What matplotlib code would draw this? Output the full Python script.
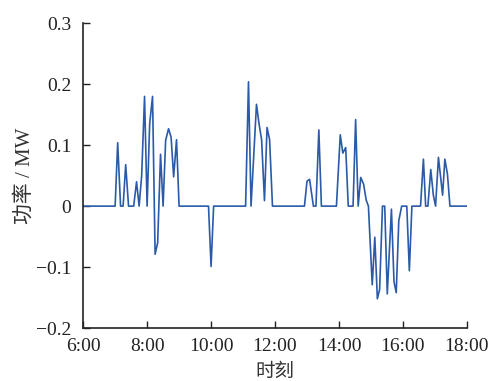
import matplotlib
matplotlib.use('Agg')
import matplotlib.pyplot as plt

# vertices of the power curve (hour of day, MW)
hours = [6.00, 7.00, 7.08, 7.17, 7.25, 7.33, 7.42, 7.58, 7.67, 7.75, 7.83, 7.92,
         8.00, 8.08, 8.17, 8.25, 8.33, 8.42, 8.50, 8.58, 8.67, 8.75, 8.83, 8.92,
         9.00, 9.92, 10.00, 10.08, 11.08, 11.17, 11.25, 11.42, 11.50, 11.58, 11.67,
         11.75, 11.83, 11.92, 12.92, 13.00, 13.08, 13.20, 13.28, 13.37, 13.45,
         13.92, 14.04, 14.12, 14.21, 14.29, 14.44, 14.52, 14.60, 14.68, 14.77,
         14.85, 14.92, 15.04, 15.12, 15.20, 15.27, 15.36, 15.43, 15.51, 15.64,
         15.72, 15.79, 15.87, 15.96, 16.12, 16.20, 16.28, 16.55, 16.64, 16.71,
         16.78, 16.87, 16.95, 17.02, 17.11, 17.24, 17.31, 17.39, 17.47, 18.00]
power = [0, 0, 0.104, 0, 0, 0.068, 0, 0, 0.040, 0, 0.050, 0.180,
         0, 0.135, 0.180, -0.079, -0.060, 0.085, 0, 0.108, 0.127, 0.113, 0.048, 0.109,
         0, 0, -0.099, 0, 0, 0.204, 0, 0.167, 0.135, 0.109, 0.009,
         0.129, 0.109, 0, 0, 0.041, 0.044, 0, 0, 0.125, 0,
         0, 0.117, 0.087, 0.096, 0, 0, 0.142, 0, 0.047, 0.036,
         0.010, 0, -0.129, -0.051, -0.152, -0.137, 0, 0, -0.144, -0.005,
         -0.124, -0.142, -0.024, 0, 0, -0.106, 0, 0, 0.077, 0,
         0, 0.060, 0.018, 0, 0.080, 0.018, 0.077, 0.053, 0, 0]

xticks = [6, 8, 10, 12, 14, 16, 18]
xticklabels = ['6:00', '8:00', '10:00', '12:00', '14:00', '16:00', '18:00']
yticks = [-0.2, -0.1, 0, 0.1, 0.2, 0.3]
yticklabels = ['\u22120.2', '\u22120.1', '0', '0.1', '0.2', '0.3']

plt.rcParams['font.family'] = ['Liberation Serif', 'Noto Sans CJK SC']
plt.rcParams['font.size'] = 14

fig = plt.figure(figsize=(4.92, 3.81), dpi=100)
ax = fig.add_axes([0.169, 0.139, 0.780, 0.800])

ax.plot(hours, power, color='#2b5aa8', linewidth=1.2)

ax.set_xlim(6, 18)
ax.set_ylim(-0.2, 0.3)
ax.set_xticks(xticks)
ax.set_xticklabels(xticklabels)
ax.set_yticks(yticks)
ax.set_yticklabels(yticklabels)
ax.spines['top'].set_visible(False)
ax.spines['right'].set_visible(False)
for s in ['left', 'bottom']:
    ax.spines[s].set_linewidth(1.2)
    ax.spines[s].set_color('#222222')
ax.tick_params(direction='in', length=5, width=1.0, labelsize=14,
               colors='#222222')
ax.tick_params(axis='x', pad=7.5)
ax.tick_params(axis='y', pad=8.5)

ax.set_xlabel('时刻', fontsize=14, color='#333333', labelpad=6)
ax.set_ylabel('功率 / MW', fontsize=15, color='#333333', labelpad=1)

fig.savefig('out.png', dpi=100)
